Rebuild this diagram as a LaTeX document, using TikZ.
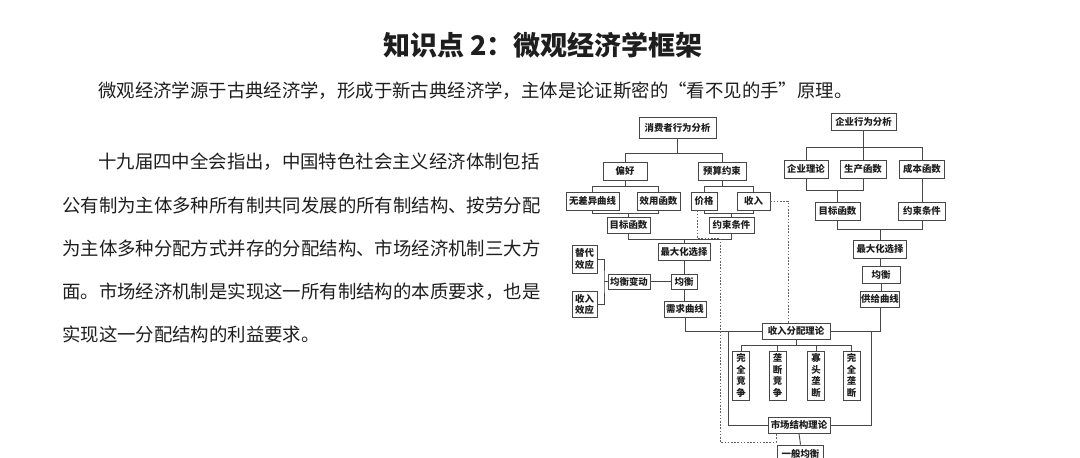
\documentclass[tikz,border=0pt]{standalone}
\usepackage{fontspec}
\newfontfamily\cjk{Noto Sans CJK SC}
\definecolor{lnc}{HTML}{474747}
\definecolor{txt}{HTML}{1E1E1E}
\newcommand{\bxfont}{\cjk\bfseries\fontsize{9.4}{11.6}\selectfont}
\newcommand{\prfont}{\cjk\fontsize{18.4}{22}\selectfont}
\newcommand{\ttlfont}{\cjk\bfseries\fontsize{27}{32}\selectfont}
\tikzset{
  bx/.style 2 args={draw=lnc, line width=0.9pt, fill=white, inner sep=0pt,
    minimum width=#1, minimum height=#2, font=\bxfont, text=txt},
  vb/.style={bx={17}{49}, align=center},
  ln/.style={draw=lnc, line width=0.9pt},
  dl/.style={draw=lnc!85, line width=0.8pt, dash pattern=on 1.6pt off 1.6pt},
  para/.style={anchor=west, inner sep=0pt, font=\prfont, text=txt},
}
\begin{document}
\begin{tikzpicture}[x=1pt,y=-1pt]
\useasboundingbox (0,0) rectangle (1080,458);
\clip (0,0) rectangle (1080,458);
\fill[white] (0,0) rectangle (1080,458);

% texts
\node[font=\ttlfont, text=txt, inner sep=0pt] (title) at (543,45) {知识点 2：微观经济学框架};
\node[para] (sub) at (98,91) {微观经济学源于古典经济学，形成于新古典经济学，主体是论证斯密的“看不见的手”原理。};
\node[para] (p1) at (98,162) {十九届四中全会指出，中国特色社会主义经济体制包括};
\node[para] (p2) at (62,205) {公有制为主体多种所有制共同发展的所有制结构、按劳分配};
\node[para] (p3) at (62,248) {为主体多种分配方式并存的分配结构、市场经济机制三大方};
\node[para] (p4) at (62,292) {面。市场经济机制是实现这一所有制结构的本质要求，也是};
\node[para] (p5) at (62,334) {实现这一分配结构的利益要求。};

% consumer tree
\node[bx={77}{21}] (c0) at (677.5,127.5) {消费者行为分析};
\node[bx={44}{18}] (c1) at (625,171) {偏好};
\node[bx={48}{18}] (c2) at (722,171) {预算约束};
\node[bx={53}{18}] (c3) at (592.5,201) {无差异曲线};
\node[bx={43}{18}] (c4) at (658.5,201) {效用函数};
\node[bx={26}{18}] (c5) at (704,201) {价格};
\node[bx={33}{18}] (c6) at (753.5,201) {收入};
\node[bx={43}{16}] (c7) at (628.5,225) {目标函数};
\node[bx={45}{16}] (c8) at (731.5,225) {约束条件};
\node[bx={52}{17}] (c9) at (684,251.5) {最大化选择};
\node[bx={25}{28}, align=center] (c10) at (584.5,259) {替代\\效应};
\node[bx={25}{26}, align=center] (c11) at (584.5,304.5) {收入\\效应};
\node[bx={42}{15}] (c12) at (629,281.5) {均衡变动};
\node[bx={26}{15}] (c13) at (684,281.5) {均衡};
\node[bx={42}{16}] (c14) at (685,309) {需求曲线};

% firm tree
\node[bx={65}{17}] (f0) at (863.5,121.5) {企业行为分析};
\node[bx={44}{18}] (f1) at (806,169) {企业理论};
\node[bx={46}{18}] (f2) at (863,169) {生产函数};
\node[bx={45}{18}] (f3) at (922,169) {成本函数};
\node[bx={45}{18}] (f4) at (837.5,211) {目标函数};
\node[bx={47}{18}] (f5) at (922,211) {约束条件};
\node[bx={53}{18}] (f6) at (880,249) {最大化选择};
\node[bx={38}{17}] (f7) at (881,274.5) {均衡};
\node[bx={39}{16}] (f8) at (880,299) {供给曲线};

% bottom block
\node[bx={68}{16}] (b0) at (796,331) {收入分配理论};
\node[vb] (b1) at (741,375.5) {完\\全\\竞\\争};
\node[vb] (b2) at (777.5,375.5) {垄\\断\\竞\\争};
\node[vb] (b3) at (816,375.5) {寡\\头\\垄\\断};
\node[vb] (b4) at (851.5,375.5) {完\\全\\垄\\断};
\node[bx={62}{16}] (b5) at (799,425) {市场结构理论};
\node[bx={46}{17}] (b6) at (800.5,453.5) {一般均衡};

% consumer connectors
\draw[ln] (c0.south) -- (c0.south |- 0,153);
\draw[ln] (c1.north) |- (c2.north |- 0,153) -- (c2.north);
\draw[ln] (c1.south) -- (c1.south |- 0,186);
\draw[ln] (c3.north) |- (c4.north |- 0,186) -- (c4.north);
\draw[ln] (c2.south) -- (c2.south |- 0,186);
\draw[ln] (c5.north) |- (c6.north |- 0,186) -- (c6.north);
\draw[ln] (c3.south) |- (c4.south |- 0,213) -- (c4.south);
\draw[ln] (c7.north) -- (c7.north |- 0,213);
\draw[ln] (c5.south) |- (c6.south |- 0,213) -- (c6.south);
\draw[ln] (c8.north) -- (c8.north |- 0,213);
\draw[ln] (c7.south) |- (c8.south |- 0,239) -- (c8.south);
\draw[ln] (c9.north) -- (c9.north |- 0,239);
\draw[ln] (c9.south) -- (c13.north);
\coordinate (br) at (604,281.5);
\draw[ln] (c10.east) -| (br) |- (c11.east);
\draw[ln] (br) -- (c12.west);
\draw[ln] (c12.east) -- (c13.west);
\draw[ln] (c13.south) -- (c13.south |- c14.north);

% firm connectors
\draw[ln] (f0.south) -- (f0.south |- 0,147);
\draw[ln] (f1.north) |- (f3.north |- 0,147) -- (f3.north);
\draw[ln] (f2.north) -- (f2.north |- 0,147);
\draw[ln] (f1.south) |- (f2.south |- 0,190) -- (f2.south);
\draw[ln] (f4.north) -- (f4.north |- 0,190);
\draw[ln] (f3.south) -- (f5.north);
\draw[ln] (f4.south) |- (f5.south |- 0,229) -- (f5.south);
\draw[ln] (f6.north) -- (f6.north |- 0,229);
\draw[ln] (f6.south) -- (f6.south |- f7.north);
\draw[ln] (f7.south) -- (f7.south |- f8.north);

% bottom connectors
\coordinate (r1) at (728,331);
\coordinate (r2) at (728,425);
\coordinate (r3) at (871,331);
\coordinate (r4) at (871,425);
\draw[ln] (b0.west) -- (r1) -- (r2) -- (b5.west);
\draw[ln] (b0.east) -- (r3) -- (r4) -- (b5.east);
\draw[ln] (c14.south) |- (r1);
\draw[ln] (f8.south) |- (b0.east);
\draw[ln] (b0.south) -- (b0.south |- 0,345);
\draw[ln] (b1.north) |- (b4.north |- 0,345) -- (b4.north);
\draw[ln] (b2.north) -- (b2.north |- 0,345);
\draw[ln] (b3.north) -- (b3.north |- 0,345);
\draw[ln] (b5.south) -- (b6.north);

% dashed links
\coordinate (d1) at (788,201);
\draw[dl] (c6.east) -- (d1) -- (d1 |- b0.north);
\coordinate (d2) at (697,238);
\coordinate (d3) at (720,238);
\coordinate (d4) at (720,442);
\coordinate (d5) at (776,442);
\draw[dl] (d2 |- c5.south) -- (d2) -- (d3) -- (d4) -- (d5) -- (d5 |- b5.south);
\end{tikzpicture}
\end{document}
